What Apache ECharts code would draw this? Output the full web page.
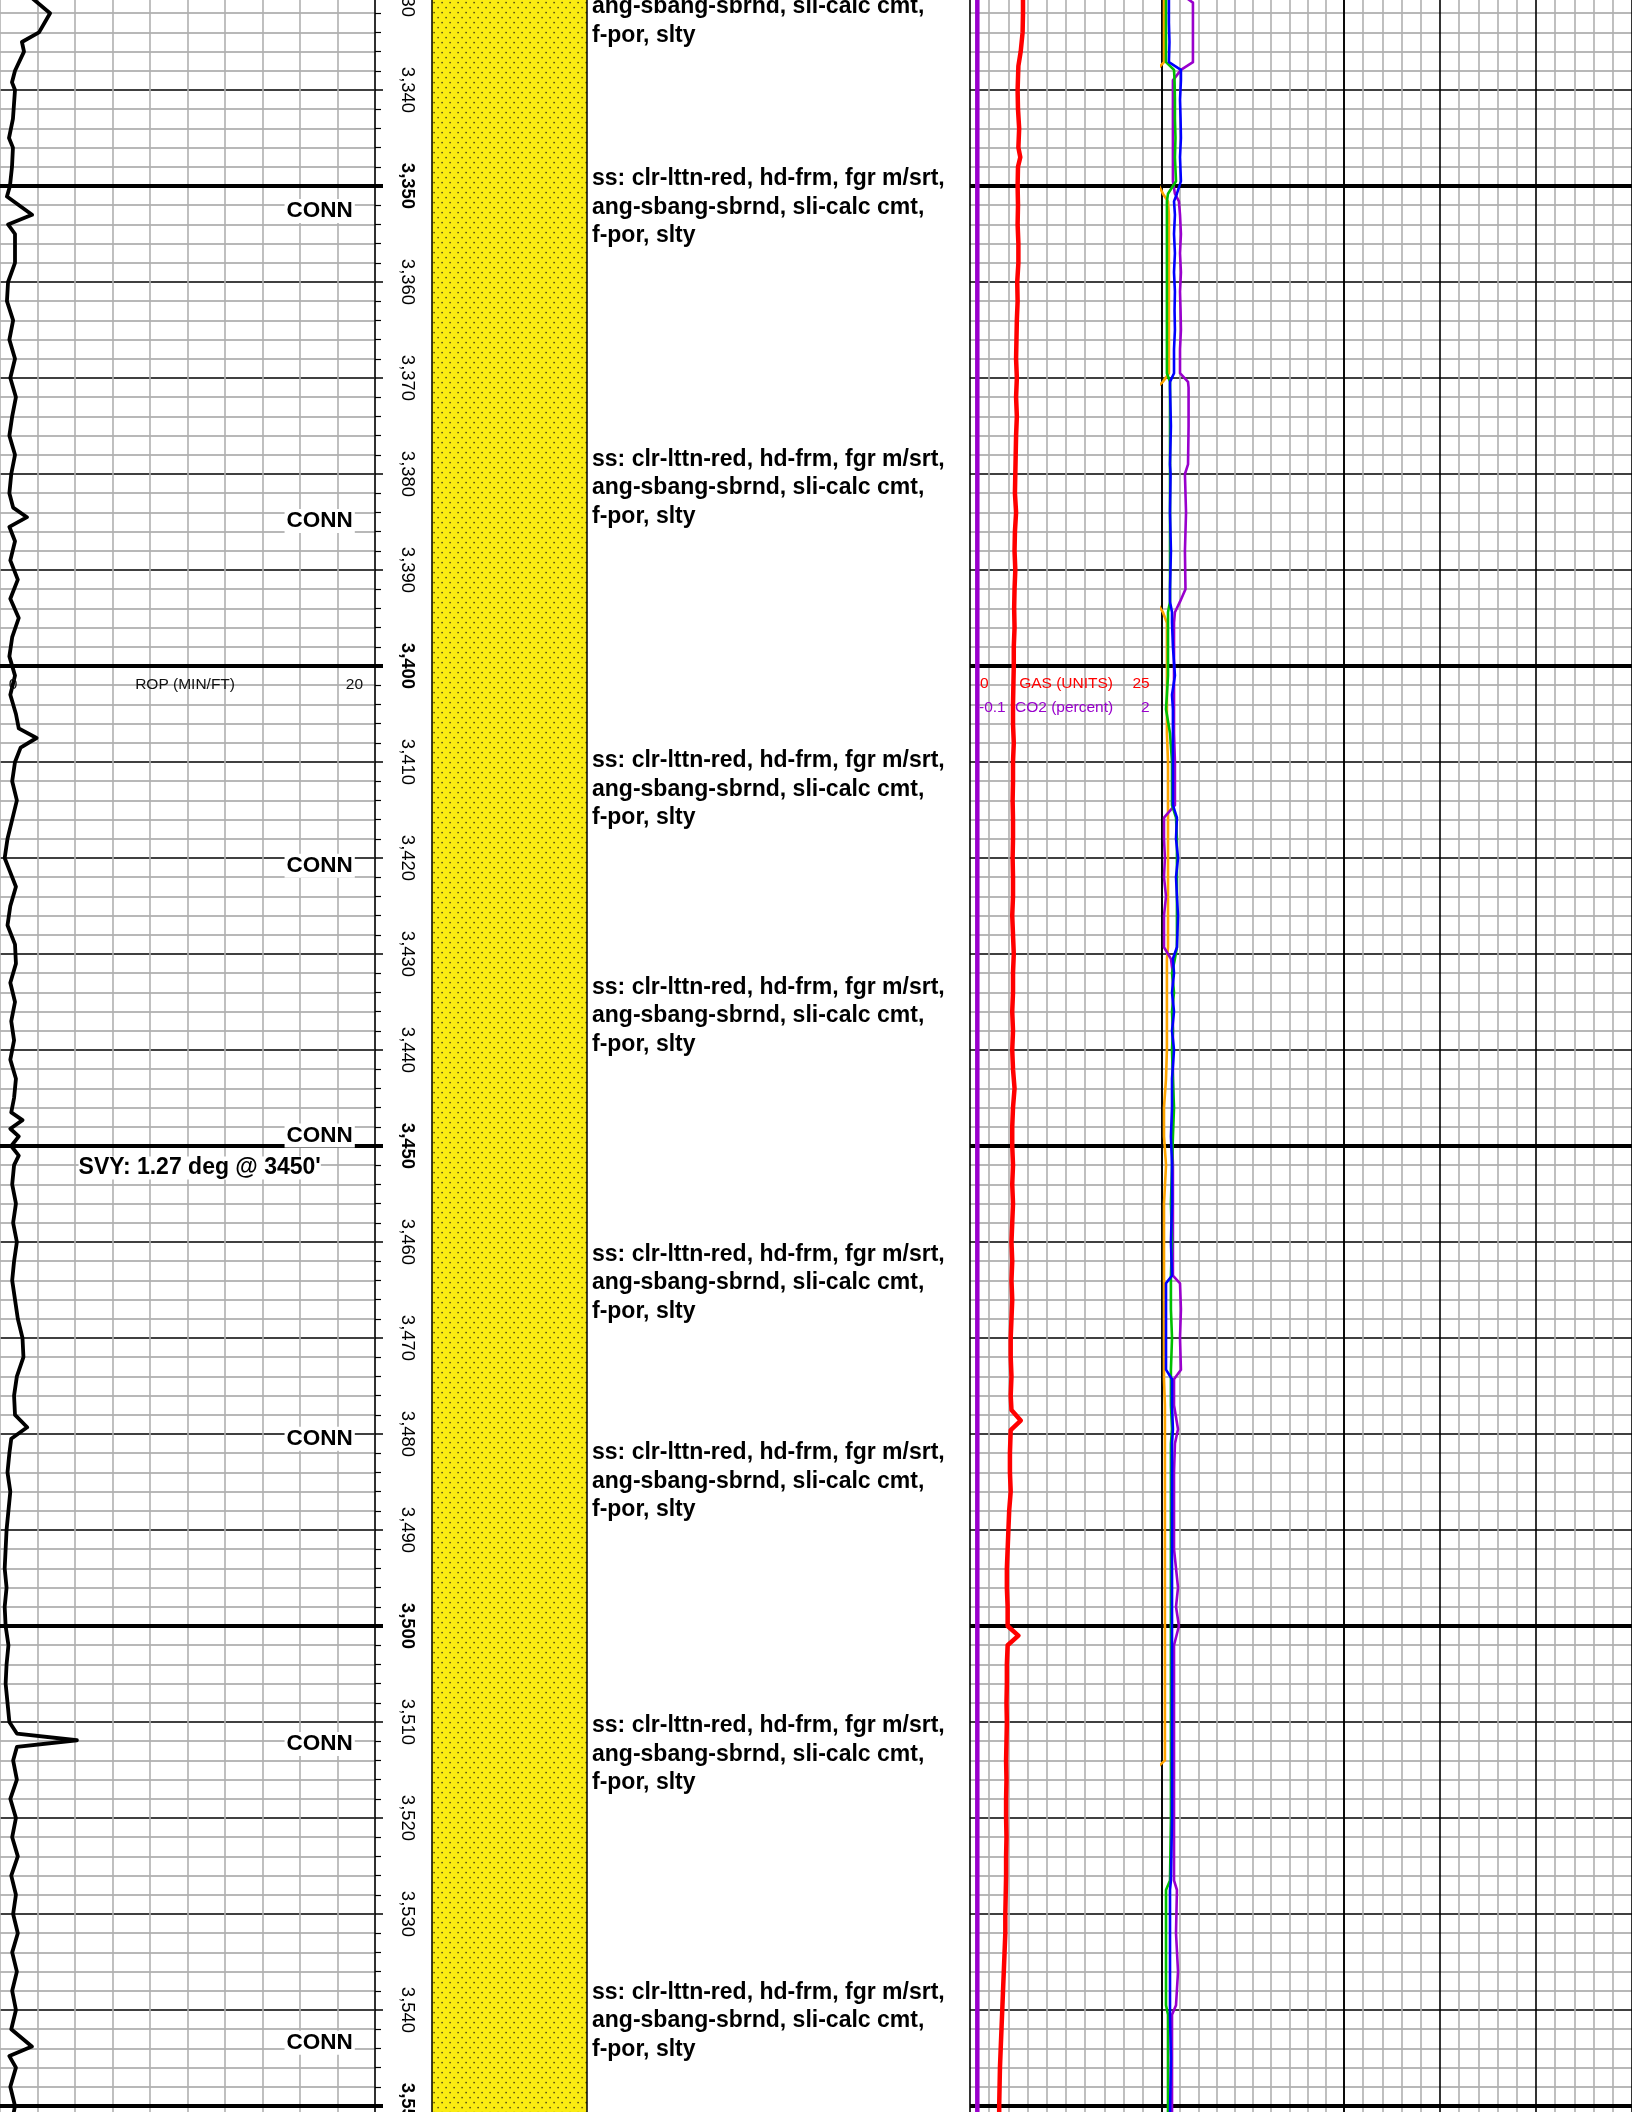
<!DOCTYPE html>
<html>
<head>
<meta charset="utf-8">
<script src="https://cdn.jsdelivr.net/npm/echarts@6/dist/echarts.min.js"></script>
<style>html,body{margin:0;padding:0;background:#fff}#c{width:1632px;height:2112px}</style>
</head>
<body>
<div id="c"></div>
<script>
// ---------------- DATA ----------------
const depthLabels = [3330,3340,3350,3360,3370,3380,3390,3400,3410,3420,3430,3440,3450,3460,3470,3480,3490,3500,3510,3520,3530,3540,3550];
const boldDepths = [3350,3400,3450,3500,3550];

const ropDepth = [3330,3332,3334,3335,3336,3338,3339.2,3340,3343,3345,3346,3348,3350,3351.1,3353,3354,3355,3358,3360,3362,
 3364,3366,3368,3370,3372,3374,3376,3378,3380,3382,3383.5,3384.5,3385.5,3387,3389,3391,3393,3395,3397,3399,
 3401,3403,3405,3406.5,3407.5,3408.5,3410,3412,3414,3416,3418,3420,3421,3423,3425,3427,3429,3431,3433,3435,
 3437,3439,3441,3443,3445,3446.5,3447.3,3448.2,3449,3450,3451,3452,3454,3456,3458,3460,3462,3464,3466,3468,
 3470,3472,3474,3476,3478,3479.3,3480.5,3482,3484,3486,3488,3490,3492,3494,3496,3498,3500,3502,3504,3506,
 3508,3510,3511.2,3511.9,3512.6,3514,3516,3518,3520,3522,3524,3526,3528,3530,3532,3534,3536,3538,3540,3542,
 3543.8,3544.8,3546,3548,3550,3551];
const ropValue = [1.45,2.67,2.08,1.17,1.28,0.8,0.64,0.8,0.69,0.48,0.69,0.64,0.53,0.37,1.71,0.43,0.8,0.8,0.43,0.37,
 0.7,0.5,0.8,0.55,0.85,0.65,0.5,0.8,0.6,0.5,0.7,1.44,0.5,0.8,0.55,0.95,0.55,1.0,0.65,0.5,
 0.8,0.55,0.85,1.0,1.95,1.1,0.8,0.65,0.9,0.65,0.4,0.25,0.45,0.85,0.55,0.4,0.8,0.85,0.55,0.8,
 0.6,0.75,0.55,0.85,0.75,0.6,1.2,0.55,1.0,0.6,1.0,0.75,0.65,0.85,0.7,0.9,0.75,0.65,0.8,0.95,
 1.2,1.25,0.9,0.75,0.8,1.45,0.6,0.5,0.4,0.55,0.45,0.35,0.3,0.25,0.35,0.25,0.3,0.45,0.35,0.3,
 0.4,0.5,0.9,4.1,0.9,0.7,0.9,0.55,0.85,0.65,0.95,0.6,0.85,0.7,0.95,0.65,0.9,0.65,0.85,0.6,
 1.7,0.5,0.85,0.55,0.8,0.7];

const gasDepth = [3330,3332,3334,3336,3337.5,3340,3342,3344,3346,3347,3348,3350,3352,3354,3356,3358,3360,3362,3364,3366,
 3368,3370,3372,3374,3376,3378,3380,3382,3384,3386,3388,3390,3392,3394,3396,3398,3400,3402,3404,3406,
 3408,3410,3412,3414,3416,3418,3420,3422,3424,3426,3428,3430,3432,3434,3436,3438,3440,3442,3444,3446,
 3448,3450,3452,3454,3456,3458,3460,3462,3464,3466,3468,3470,3472,3474,3476,3477.5,3478.6,3479.6,3482,3484,
 3486,3488,3490,3492,3494,3496,3498,3500,3501,3502,3504,3506,3508,3510,3512,3514,3516,3518,3520,3522,
 3524,3526,3528,3530,3532,3534,3536,3538,3540,3542,3544,3546,3548,3550,3551];
const gasValue = [6.9,6.9,6.85,6.6,6.3,6.2,6.25,6.4,6.3,6.55,6.25,6.2,6.25,6.2,6.3,6.3,6.15,6.2,6.1,6.05,
 6.0,6.1,6.0,6.1,6.0,5.95,5.9,5.85,6.0,5.85,5.8,5.9,5.8,5.75,5.8,5.7,5.7,5.65,5.6,5.6,
 5.7,5.6,5.6,5.55,5.6,5.6,5.55,5.6,5.6,5.5,5.6,5.7,5.6,5.6,5.5,5.6,5.5,5.6,5.8,5.6,
 5.5,5.5,5.6,5.5,5.6,5.5,5.4,5.5,5.4,5.5,5.4,5.3,5.3,5.4,5.3,5.4,6.6,5.3,5.2,5.2,
 5.3,5.1,5.0,4.9,4.8,4.8,4.9,4.9,6.3,4.9,4.8,4.8,4.75,4.8,4.75,4.7,4.75,4.7,4.7,4.75,
 4.7,4.7,4.65,4.6,4.6,4.5,4.4,4.3,4.2,4.1,4.0,3.9,3.85,3.8,3.8];

const co2Depth = [3320,3350,3400,3450,3500,3560];
const co2Value = [-0.02,-0.02,-0.02,-0.02,-0.02,-0.02];

const chromaDepth = [3330,3330.9,3333,3335,3337.1,3337.9,3339,3341,3343,3345,3347,3349.5,3350.8,3351.6,3353,3355,3357,3359,3361,3363,
 3365,3367,3369.5,3370.4,3371,3375,3379,3380,3384,3388,3392,3393.3,3394.4,3395.5,3398,3401,3403,3404.5,3407,3410,
 3414.5,3415.8,3418,3420,3422,3424,3426,3429.3,3430.5,3432,3434,3436,3438,3440,3443,3446,3449,3452,3456,3460,
 3463.5,3464.3,3467,3470,3473.3,3474.3,3477,3479.5,3481,3484,3488,3492,3496,3498,3500,3502,3506,3510,3514,3514.8,
 3520,3526.5,3527.5,3532,3536,3539.5,3540.5,3545,3551];
const chromaOrange = [1.1,1.1,1.1,1.1,1.1,-3,-3,-3,-3,-3,-3,-3,0.5,3.3,3.8,3.8,3.8,3.8,3.8,3.8,
 3.8,3.8,3.8,0.5,-3,-3,-3,-3,-3,-3,-3,-3,0.5,2.7,2.7,2.7,2.7,2.7,2.7,3.3,
 3.3,3.3,3.3,3.3,3.3,3.3,3.3,3.3,2.7,2.7,2.7,2.7,2.7,2.7,2.2,1.1,1.1,2.2,1.1,1.1,
 1.1,1.1,1.1,1.1,1.1,1.1,1.6,1.6,1.6,1.6,1.6,1.6,1.6,1.6,1.6,1.6,1.6,1.6,1.6,-3,
 -3,-3,-3,-3,-3,-3,-3,-3,-3];
const chromaGreen = [2.2,2.2,2.2,2.2,2.2,6.6,6.9,7.1,7.1,7.4,7.1,7.7,3.3,2.7,2.7,2.7,2.7,2.7,2.7,2.7,
 2.7,2.7,2.7,4.4,4.4,4.4,4.4,4.4,4.4,4.4,4.4,4.4,3.3,3.3,3.3,3.3,2.7,2.2,4.4,5.5,
 5.5,7.7,8.2,8.2,8.2,8.2,8.2,8.2,7.1,5.5,6.6,5.5,6.0,5.5,6.0,6.6,6.0,5.5,4.9,5.5,
 4.9,4.9,4.9,5.5,4.9,4.9,4.9,5.5,4.9,4.9,4.9,4.9,4.9,4.9,4.9,4.9,4.9,4.9,4.9,4.9,
 4.9,4.4,2.2,2.2,2.2,2.2,3.3,3.3,3.3];
const chromaBlue = [3.8,3.8,3.8,4.1,3.8,10.4,10.4,9.9,10.2,10.4,9.9,10.4,8.2,6.6,7.1,6.6,7.1,6.6,7.1,6.9,
 7.1,6.6,6.6,4.4,4.4,4.9,4.4,4.7,4.4,4.9,4.4,4.4,5.5,5.5,6.0,7.1,5.5,6.0,6.0,6.0,
 6.0,8.2,7.7,8.8,7.7,8.2,8.8,8.2,6.0,6.6,5.5,6.6,5.5,6.6,5.5,5.5,4.9,5.5,5.5,4.9,
 5.5,2.2,2.2,2.2,2.2,5.5,5.5,6.0,5.5,5.5,5.5,5.5,5.5,5.5,5.5,5.5,5.5,5.5,5.5,5.5,
 5.5,4.9,4.4,4.4,4.4,4.4,4.4,4.9,4.4];
const chromaPurple = [10.4,17.0,17.0,17.0,17.0,10.4,6.0,6.0,6.0,6.0,6.0,6.0,7.1,9.3,9.9,10.4,9.9,10.4,9.9,10.2,
 10.4,9.9,9.9,14.3,14.6,14.6,14.3,12.6,13.2,12.6,12.9,9.9,7.1,6.6,6.6,6.6,6.6,6.6,6.6,7.1,
 7.1,1.1,1.1,1.6,1.1,2.2,1.1,1.1,4.9,6.0,6.0,6.0,6.0,6.0,6.0,6.0,5.5,6.0,6.0,6.0,
 6.0,9.9,10.4,9.9,10.4,6.6,6.6,8.8,7.1,6.6,6.6,6.6,8.8,7.7,9.3,6.6,6.6,6.6,6.6,6.6,
 6.6,6.6,8.2,7.7,8.8,7.7,5.5,5.5,5.5];

const connDepth = [3352.6,3384.9,3420.8,3448.9,3480.5,3512.3,3543.4];
const surveyDepth = [3452.3];
const surveyText = ["SVY: 1.27 deg @ 3450'"];

const SS_DESC = 'ss: clr-lttn-red, hd-frm, fgr m/srt,\nang-sbang-sbrnd, sli-calc cmt,\nf-por, slty';
const descDepth = [3326.9,3347.8,3377.0,3408.4,3432.0,3459.8,3480.5,3508.9,3536.7];
const descText = [SS_DESC,SS_DESC,SS_DESC,SS_DESC,SS_DESC,SS_DESC,SS_DESC,SS_DESC,SS_DESC];

const lithTop = [3320];
const lithBottom = [3560];

// ---------------- LAYOUT ----------------
const DEPTH_MIN = 3320, DEPTH_MAX = 3560, PX_PER_FT = 9.6;
const TOP = -(3330.625 - DEPTH_MIN) * PX_PER_FT;
const HEIGHT = (DEPTH_MAX - DEPTH_MIN) * PX_PER_FT;
const FONT = '"Liberation Sans", Arial, sans-serif';
const GREY = '#b0b0b0';
const GREY_H = '#a0a0a0';

const gridBoxes = [
  {left: 0, width: 375},    // 0 ROP
  {left: 375, width: 57},   // 1 depth
  {left: 432, width: 155},  // 2 lithology
  {left: 587, width: 383},  // 3 description
  {left: 970, width: 192},  // 4 gas
  {left: 1162, width: 182}, // 5 chromatograph 1
  {left: 1344, width: 288}  // 6 chromatograph 2
];
const grid = gridBoxes.map(g => ({left: g.left, width: g.width, top: TOP, height: HEIGHT,
  containLabel: false, outerBoundsMode: 'none', show: false}));

function yAx(idx, kind) {
  const a = {type: 'value', gridIndex: idx, inverse: true, min: DEPTH_MIN, max: DEPTH_MAX, interval: 10,
    axisLine: {show: false}, axisTick: {show: false}, axisLabel: {show: false},
    splitLine: {show: false}, minorTick: {show: false, splitNumber: 5}, minorSplitLine: {show: false}};
  if (kind === 'grid') {
    a.splitLine = {show: true, lineStyle: {color: '#000', width: 1.6}};
    a.minorSplitLine = {show: true, lineStyle: {color: GREY_H, width: 1.6}};
  } else if (kind === 'depth') {
    a.axisLine = {show: true, onZero: false, lineStyle: {color: '#000', width: 1.5}};
    a.axisTick = {show: true, inside: true, length: 8, lineStyle: {color: '#000', width: 1.5}};
    a.minorTick = {show: true, splitNumber: 5, length: 6, lineStyle: {color: '#000', width: 1.2}};
  } else {
    a.show = false;
  }
  return a;
}
const yAxis = [yAx(0,'grid'), yAx(1,'depth'), yAx(2,'none'), yAx(3,'none'), yAx(4,'grid'), yAx(5,'grid'), yAx(6,'grid')];

function colorCycle(n, first) {
  const arr = [first];
  for (let i = 1; i < n; i++) arr.push(GREY);
  return arr;
}
const hiddenBits = {axisLine: {show: false}, axisTick: {show: false}, axisLabel: {show: false}};
const xAxis = [
  Object.assign({type: 'value', gridIndex: 0, min: 0, max: 20, interval: 2,
    splitLine: {show: true, lineStyle: {color: GREY, width: 1.6}}}, hiddenBits),
  {type: 'value', gridIndex: 1, min: 0, max: 1, show: false},
  {type: 'value', gridIndex: 2, min: 0, max: 1, show: false},
  {type: 'value', gridIndex: 3, min: 0, max: 1, show: false},
  Object.assign({type: 'value', gridIndex: 4, min: 0, max: 25, interval: 2.5,
    splitLine: {show: true, lineStyle: {color: colorCycle(10, '#000'), width: 1.6}}}, hiddenBits),
  {type: 'value', gridIndex: 4, min: -0.1, max: 2, show: false},
  Object.assign({type: 'value', gridIndex: 5, min: 0, max: 100, interval: 10,
    splitLine: {show: true, lineStyle: {color: colorCycle(10, '#000'), width: 1.6}}}, hiddenBits),
  Object.assign({type: 'value', gridIndex: 6, min: 0, max: 15, interval: 1,
    splitLine: {show: true, lineStyle: {color: colorCycle(5, '#000'), width: 1.6}}}, hiddenBits)
];

function pairs(depths, values) { return depths.map((d, i) => [values[i], d]); }

function boldLineSeries(xi, yi, tickLen) {
  return {
    type: 'custom', xAxisIndex: xi, yAxisIndex: yi, z: 1, silent: true, clip: false,
    data: boldDepths.map(d => [d]),
    encode: {y: 0},
    renderItem: function (params, api) {
      const cs = params.coordSys;
      const y = api.coord([0, api.value(0)])[1];
      const x2 = tickLen ? cs.x + tickLen : cs.x + cs.width;
      return {type: 'line', shape: {x1: cs.x, y1: y, x2: x2, y2: y},
        style: {stroke: '#000', lineWidth: 4}};
    }
  };
}

function textSeries(xi, yi, items, z) {
  return {
    type: 'scatter', xAxisIndex: xi, yAxisIndex: yi, z: z || 6, silent: true,
    symbolSize: 1, itemStyle: {color: 'rgba(0,0,0,0)', opacity: 1},
    data: items
  };
}

function lineSeries(name, xi, yi, data, color, width, z) {
  return {name: name, type: 'line', xAxisIndex: xi, yAxisIndex: yi, data: data, z: z,
    symbol: 'none', showSymbol: false, connectNulls: false, silent: true,
    lineStyle: {color: color, width: width, join: 'round', cap: 'round'}};
}

function fmtDepth(d) { return String(d).replace(/\B(?=(\d{3})+(?!\d))/g, ','); }

// sand pattern
function makeSandPattern() {
  const c = document.createElement('canvas');
  c.width = 8; c.height = 10;
  const g = c.getContext('2d');
  g.fillStyle = '#fbec12'; g.fillRect(0, 0, 8, 10);
  g.fillStyle = '#3c3818';
  g.fillRect(1.4, 1.9, 1.4, 1.4);
  g.fillRect(5.4, 6.9, 1.4, 1.4);
  return c;
}
const sandPattern = {image: makeSandPattern(), repeat: 'repeat'};

function lbl(text, o) {
  return Object.assign({show: true, position: 'inside', formatter: text, fontFamily: FONT, opacity: 1}, o);
}

const ropScaleLabels = [
  {value: [0.69, 3402], label: lbl('0', {fontSize: 15.5, color: '#111', align: 'center', verticalAlign: 'middle'})},
  {value: [9.87, 3402], label: lbl('ROP (MIN/FT)', {fontSize: 15.5, color: '#111', align: 'center', verticalAlign: 'middle'})},
  {value: [19.36, 3402], label: lbl('20', {fontSize: 15.5, color: '#111', align: 'right', verticalAlign: 'middle'})}
];
const gasScaleLabels = [
  {value: [1.3, 3401.8], label: lbl('0', {fontSize: 15.5, color: '#ff0000', align: 'left', verticalAlign: 'middle'})},
  {value: [6.4, 3401.8], label: lbl('GAS (UNITS)', {fontSize: 15.5, color: '#ff0000', align: 'left', verticalAlign: 'middle'})},
  {value: [23.4, 3401.8], label: lbl('25', {fontSize: 15.5, color: '#ff0000', align: 'right', verticalAlign: 'middle'})},
  {value: [1.17, 3404.3], label: lbl('-0.1', {fontSize: 15.5, color: '#9900cc', align: 'left', verticalAlign: 'middle'})},
  {value: [5.86, 3404.3], label: lbl('CO2 (percent)', {fontSize: 15.5, color: '#9900cc', align: 'left', verticalAlign: 'middle'})},
  {value: [23.4, 3404.3], label: lbl('2', {fontSize: 15.5, color: '#9900cc', align: 'right', verticalAlign: 'middle'})}
];

const series = [
  // ROP track
  boldLineSeries(0, 0),
  lineSeries('ROP', 0, 0, pairs(ropDepth, ropValue), '#000', 3.8, 3),
  textSeries(0, 0, ropScaleLabels, 4),
  textSeries(0, 0, connDepth.map(d => ({value: [17.05, d],
    label: lbl('CONN', {fontSize: 22.5, fontWeight: 'bold', color: '#000', align: 'center', verticalAlign: 'middle',
      backgroundColor: '#fff', padding: [1, 2, 0, 2]})})), 6),
  textSeries(0, 0, surveyDepth.map((d, i) => ({value: [10.65, d],
    label: lbl(surveyText[i], {fontSize: 23, fontWeight: 'bold', color: '#000', align: 'center', verticalAlign: 'middle',
      backgroundColor: '#fff', padding: [0, 0, 0, 0]})})), 6),
  // depth track
  boldLineSeries(1, 1, 8),
  textSeries(1, 1, depthLabels.map(d => ({value: [0.56, d],
    label: lbl(fmtDepth(d), {fontSize: 18.5, fontWeight: d % 50 === 0 ? 'bold' : 'normal', color: '#000',
      rotate: -90, align: 'center', verticalAlign: 'middle'})})), 5),
  // lithology
  {
    type: 'custom', xAxisIndex: 2, yAxisIndex: 2, z: 2, silent: true, clip: false,
    data: lithTop.map((t, i) => [t, lithBottom[i]]),
    encode: {y: [0, 1]},
    renderItem: function (params, api) {
      const p0 = api.coord([0, api.value(0)]);
      const p1 = api.coord([1, api.value(1)]);
      return {type: 'rect', shape: {x: p0[0], y: p0[1], width: p1[0] - p0[0], height: p1[1] - p0[1]},
        style: {fill: sandPattern, stroke: '#000', lineWidth: 1.5}};
    }
  },
  // description
  textSeries(3, 3, descDepth.map((d, i) => ({value: [0, d],
    label: lbl(descText[i], {fontSize: 23, fontWeight: 'bold', color: '#000', align: 'left', verticalAlign: 'top',
      lineHeight: 28.5, offset: [5, 0]})})), 5),
  // gas track
  boldLineSeries(4, 4),
  lineSeries('CO2', 5, 4, pairs(co2Depth, co2Value), '#9900cc', 4.5, 3),
  lineSeries('GAS', 4, 4, pairs(gasDepth, gasValue), '#ff0000', 4.5, 3),
  textSeries(4, 4, gasScaleLabels, 4),
  // chromatograph
  boldLineSeries(6, 5),
  lineSeries('C-orange', 6, 5, pairs(chromaDepth, chromaOrange), '#ffa500', 2.6, 3),
  lineSeries('C-purple', 6, 5, pairs(chromaDepth, chromaPurple), '#9900cc', 2.6, 3),
  lineSeries('C-green', 6, 5, pairs(chromaDepth, chromaGreen), '#00c000', 2.6, 3),
  lineSeries('C-blue', 6, 5, pairs(chromaDepth, chromaBlue), '#0000ff', 2.6, 3),
  boldLineSeries(7, 6)
];

const chart = echarts.init(document.getElementById('c'), null, {renderer: 'canvas', width: 1632, height: 2112});
chart.setOption({
  animation: false,
  backgroundColor: '#fff',
  grid: grid,
  xAxis: xAxis,
  yAxis: yAxis,
  series: series
});
</script>
</body>
</html>
